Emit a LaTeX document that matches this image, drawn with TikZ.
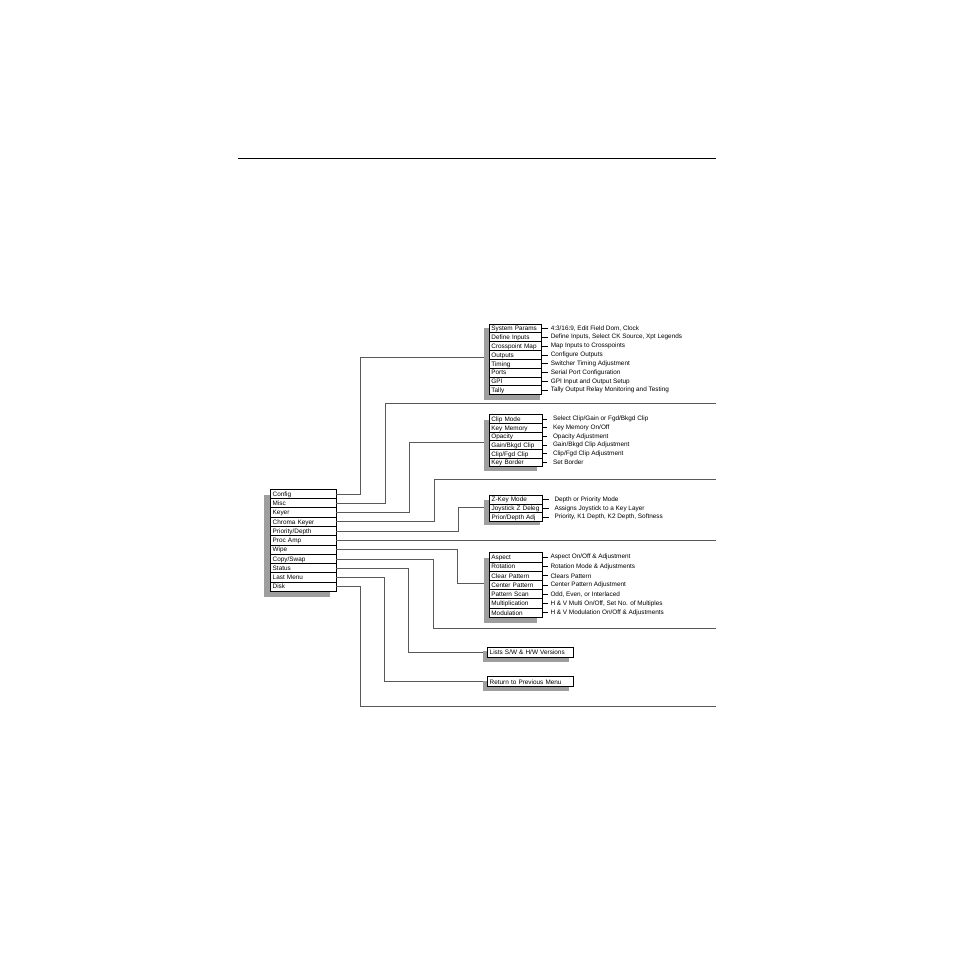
\documentclass[tikz,border=0pt]{standalone}
\usepackage{fontspec}
\setmainfont{Liberation Sans}
\newcommand\lblfont{\fontsize{6.4}{7}\selectfont}
\begin{document}
\begin{tikzpicture}[x=1pt,y=-1pt,
 conn/.style={draw=black!65, line width=0.6pt},
 shad/.style={fill=black!38, draw=none, inner sep=0pt, outer sep=0pt, anchor=north west},
 cell/.style={draw=black, line width=0.8pt, fill=white, anchor=north west, inner xsep=2.4pt, inner ysep=0pt, outer sep=0pt, font=\lblfont, align=left, text height=4.6pt, text depth=0pt},
 desc/.style={anchor=west, inner sep=0pt, font=\lblfont},
 tick/.style={draw=black, line width=0.6pt},
 rule/.style={draw=black, line width=1pt}]
\useasboundingbox (0,0) rectangle (954,954);
\fill[white] (0,0) rectangle (954,954);

\draw[rule] (238,158) coordinate (r1) -- (716,158) coordinate (r2);

% left menu
\node[shad, minimum width=66.3pt, minimum height=101.7pt] (Lsh) at (263.7,495) {};
\foreach \t [count=\i] in {Config,Misc,Keyer,Chroma Keyer,Priority/Depth,Proc Amp,Wipe,Copy/Swap,Status,Last Menu,Disk}
  \node[cell, text width=61.2pt, minimum height=9.27pt] (L\i) at (270.3,{489.3+(\i-1)*9.27}) {\t};

% config box
\node[shad, minimum width=55.7pt, minimum height=71.7pt] (Tsh) at (484.3,328) {};
\foreach \t [count=\i] in {System Params,Define Inputs,Crosspoint Map,Outputs,Timing,Ports,GPI,Tally}
  \node[cell, text width=47.9pt, minimum height=8.84pt] (T\i) at (489,{324+(\i-1)*8.84}) {\t};
\foreach \d [count=\i] in {{4:3/16:9, Edit Field Dom, Clock},{Define Inputs, Select CK Source, Xpt Legends},{Map Inputs to Crosspoints},{Configure Outputs},{Switcher Timing Adjustment},{Serial Port Configuration},{GPI Input and Output Setup},{Tally Output Relay Monitoring and Testing}}
  \draw[tick] (T\i.east) -- ++(6.5,0) node[desc, xshift=2.3pt] {\d};

% keyer box
\node[shad, minimum width=52.7pt, minimum height=50.7pt] (Ksh) at (484.3,420) {};
\foreach \t [count=\i] in {Clip Mode,Key Memory,Opacity,Gain/Bkgd Clip,Clip/Fgd Clip,Key Border}
  \node[cell, text width=48.9pt, minimum height=8.67pt] (K\i) at (489,{414.7+(\i-1)*8.67}) {\t};
\foreach \d [count=\i] in {{Select Clip/Gain or Fgd/Bkgd Clip},{Key Memory On/Off},{Opacity Adjustment},{Gain/Bkgd Clip Adjustment},{Clip/Fgd Clip Adjustment},{Set Border}}
  \draw[tick] (K\i.east) -- ++(4.5,0) node[desc, xshift=5.5pt] {\d};

% priority/depth box
\node[shad, minimum width=55.7pt, minimum height=25pt] (Zsh) at (484.3,500) {};
\foreach \t [count=\i] in {Z-Key Mode,Joystick Z Deleg,Prior/Depth Adj}
  \node[cell, text width=48.6pt, minimum height=8.9pt] (Z\i) at (489.3,{495+(\i-1)*8.9}) {\t};
\foreach \d [count=\i] in {{Depth or Priority Mode},{Assigns Joystick to a Key Layer},{Priority, K1 Depth, K2 Depth, Softness}}
  \draw[tick] (Z\i.east) -- ++(6,0) node[desc, xshift=5.5pt] {\d};

% wipe box
\node[shad, minimum width=52.7pt, minimum height=65.3pt] (Wsh) at (484.3,558) {};
\foreach \t [count=\i] in {Aspect,Rotation,Clear Pattern,Center Pattern,Pattern Scan,Multiplication,Modulation}
  \node[cell, text width=48.9pt, minimum height=9.23pt] (W\i) at (489,{552.7+(\i-1)*9.23}) {\t};
\foreach \d [count=\i] in {{Aspect On/Off \& Adjustment},{Rotation Mode \& Adjustments},{Clears Pattern},{Center Pattern Adjustment},{Odd, Even, or Interlaced},{H \& V Multi On/Off, Set No. of Multiples},{H \& V Modulation On/Off \& Adjustments}}
  \draw[tick] (W\i.east) -- ++(5.5,0) node[desc, xshift=2pt] {\d};

% status and last menu boxes
\node[shad, minimum width=85.4pt, minimum height=10.7pt] (Ssh) at (483.3,651) {};
\node[cell, text width=81.2pt, minimum height=10pt] (S1) at (487.3,647.3) {Lists S/W \& H/W Versions};
\node[shad, minimum width=85.4pt, minimum height=10.5pt] (Rsh) at (483.3,680.5) {};
\node[cell, text width=81.2pt, minimum height=10pt] (R1) at (487.3,676.7) {Return to Previous Menu};

% connectors
\coordinate (b1) at (360.3,357.3);
\draw[conn] (L1.east) -| (b1) -- (b1 -| Tsh.west);
\coordinate (b2) at (385,403.3); \coordinate (m2) at (716,403.3);
\draw[conn] (L2.east) -| (b2) -- (m2);
\coordinate (b3) at (409.5,442.3);
\draw[conn] (L3.east) -| (b3) -- (b3 -| Ksh.west);
\coordinate (b4) at (434.5,479.3); \coordinate (m4) at (716,479.3);
\draw[conn] (L4.east) -| (b4) -- (m4);
\coordinate (b5) at (458,507.3);
\draw[conn] (L5.east) -| (b5) -- (b5 -| Zsh.west);
\coordinate (m6) at (716,539);
\draw[conn] (L6.east) -- (L6.east -| m6);
\coordinate (b7) at (457.3,583.3);
\draw[conn] (L7.east) -| (b7) -- (b7 -| Wsh.west);
\coordinate (b8) at (433.5,628.3); \coordinate (m8) at (716,628.3);
\draw[conn] (L8.east) -| (b8) -- (m8);
\coordinate (b9) at (408.3,652.3);
\draw[conn] (L9.east) -| (b9) -- (b9 -| Ssh.west);
\coordinate (b10) at (384,681.5);
\draw[conn] (L10.east) -| (b10) -- (b10 -| Rsh.west);
\coordinate (b11) at (360.3,706); \coordinate (m11) at (716,706);
\draw[conn] (L11.east) -| (b11) -- (m11);
\end{tikzpicture}
\end{document}
